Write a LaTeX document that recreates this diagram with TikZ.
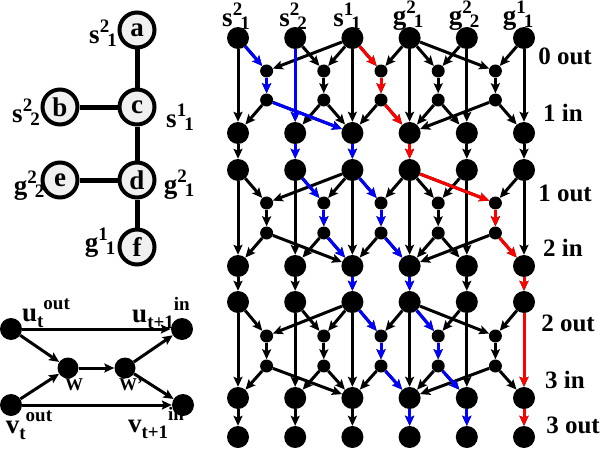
\documentclass[tikz,border=0pt]{standalone}
\usepackage{fontspec}
\setmainfont{Liberation Serif}
\usetikzlibrary{arrows.meta}
\newcommand{\scrf}{\fontsize{19}{19}\selectfont}
\newcommand{\sxy}[3]{#1\raisebox{.42em}{\scrf #2}\kern-2pt\raisebox{-.08em}{\scrf #3}}
\newcommand{\uxy}[3]{#1\raisebox{-.2em}{\scrf #2}\raisebox{.45em}{\scrf #3}}

\begin{document}
\begin{tikzpicture}[x=1pt,y=-1pt,
  every node/.style={font=\fontsize{27}{29}\selectfont\bfseries,inner sep=0pt},
  bign/.style={circle,fill=black,minimum size=22pt},
  smalln/.style={circle,fill=black,minimum size=13pt},
  gn/.style={circle,draw=black,line width=4pt,fill=black!6,minimum size=35pt},
  gedge/.style={line width=5pt},
  arr/.style={line width=3pt,-{Stealth[length=10pt,width=9pt,inset=2pt]}},
  rowlbl/.style={font=\fontsize{25}{27}\selectfont\bfseries}]
\useasboundingbox (0,0) rectangle (602,452);

% graph
\node[gn] (a) at (137,30) {a};
\node[gn] (c) at (137,107) {c};
\node[gn] (b) at (60,107) {b};
\node[gn] (d) at (137,180) {d};
\node[gn] (e) at (60,180) {e};
\node[gn] (f) at (137,247) {f};
\draw[gedge] (a)--(c);
\draw[gedge] (b)--(c);
\draw[gedge] (c)--(d);
\draw[gedge] (e)--(d);
\draw[gedge] (d)--(f);
\node (la) at (103,33) {\sxy{s}{2}{1}};
\node (lb) at (26,112) {\sxy{s}{2}{2}};
\node (lc) at (180,117) {\sxy{s}{1}{1}};
\node (le) at (29,186) {\sxy{g}{2}{2}};
\node (ld) at (179,185) {\sxy{g}{2}{1}};
\node (lf) at (100,243) {\sxy{g}{1}{1}};

% edge gadget
\node[bign] (ut) at (11,329) {};
\node[bign] (ut1) at (182,329) {};
\node[bign,minimum size=21pt] (w) at (68,368) {};
\node[bign,minimum size=21pt] (wp) at (125,368) {};
\node[bign] (vt) at (11,405) {};
\node[bign] (vt1) at (183,405) {};
\draw[arr] (ut)--(ut1);
\draw[arr] (vt)--(vt1);
\draw[arr] (ut)--(w);
\draw[arr] (vt)--(w);
\draw[arr] (w)--(wp);
\draw[arr] (wp)--(ut1);
\draw[arr] (wp)--(vt1);
\node (lut) at (46,313) {\uxy{u}{t}{out}};
\node (lut1) at (161,313) {\uxy{u}{t+1}{in}};
\node (lvt) at (29,425) {\uxy{v}{t}{out}};
\node (lvt1) at (156,423) {\uxy{v}{t+1}{in}};
\node[font=\fontsize{18}{19}\selectfont\bfseries] (lw) at (74,385) {W};
\node[font=\fontsize{18}{19}\selectfont\bfseries] (lwp) at (131,385) {W'};

% time expanded network
\foreach \r/\y in {0/38,1/133,2/170,3/266,4/302,5/398,6/437}
  \foreach \c in {0,...,5}
    \node[bign] (n\r\c) at ({238+57.2*\c},\y) {};
\foreach \b/\ya/\yb in {0/71/100,1/203/233,2/336/366}
  \foreach \k in {0,...,4} {
    \node[smalln] (wa\b\k) at ({266.6+57.2*\k},\ya) {};
    \node[smalln] (wb\b\k) at ({266.6+57.2*\k},\yb) {};
  }
\foreach \r [evaluate=\r as \s using int(\r+1)] in {0,...,5}
  \foreach \c in {0,...,5}
    \draw[arr] (n\r\c)--(n\s\c);
\foreach \b [evaluate=\b as \tr using int(2*\b), evaluate=\b as \br using int(2*\b+1)] in {0,1,2}
  \foreach \k/\p/\q in {0/0/2,1/1/2,2/2/3,3/3/4,4/3/5} {
    \draw[arr] (n\tr\p)--(wa\b\k);
    \draw[arr] (n\tr\q)--(wa\b\k);
    \draw[arr] (wa\b\k)--(wb\b\k);
    \draw[arr] (wb\b\k)--(n\br\p);
    \draw[arr] (wb\b\k)--(n\br\q);
  }

% paths
\draw[arr,blue] (n00) edge (wa00) (wa00) edge (wb00) (wb00) edge (n12)
  (n01) edge (n11) (n11) edge (n21) (n12) edge (n22);
\draw[arr,blue] (n21) edge (wa11) (wa11) edge (wb11) (wb11) edge (n32)
  (n22) edge (wa12) (wa12) edge (wb12) (wb12) edge (n33)
  (n32) edge (n42) (n33) edge (n43);
\draw[arr,blue] (n42) edge (wa22) (wa22) edge (wb22) (wb22) edge (n53)
  (n43) edge (wa23) (wa23) edge (wb23) (wb23) edge (n54)
  (n53) edge (n63) (n54) edge (n64);
\draw[arr,red] (n02) edge (wa02) (wa02) edge (wb02) (wb02) edge (n13)
  (n13) edge (n23) (n23) edge (wa14) (wa14) edge (wb14) (wb14) edge (n35)
  (n35) edge (n45) (n45) edge (n55) (n55) edge (n65);

% labels
\node (t0) at (236,16) {\sxy{s}{2}{1}};
\node (t1) at (293,16) {\sxy{s}{2}{2}};
\node (t2) at (347,16) {\sxy{s}{1}{1}};
\node (t3) at (408,16) {\sxy{g}{2}{1}};
\node (t4) at (464,16) {\sxy{g}{2}{2}};
\node (t5) at (518,16) {\sxy{g}{1}{1}};
\node[rowlbl] (r0) at (565,56) {0 out};
\node[rowlbl] (r1) at (563,113) {1 in};
\node[rowlbl] (r2) at (565,193) {1 out};
\node[rowlbl] (r3) at (563,248) {2 in};
\node[rowlbl] (r4) at (568,323) {2 out};
\node[rowlbl] (r5) at (565,380) {3 in};
\node[rowlbl] (r6) at (573,425) {3 out};
\end{tikzpicture}
\end{document}
